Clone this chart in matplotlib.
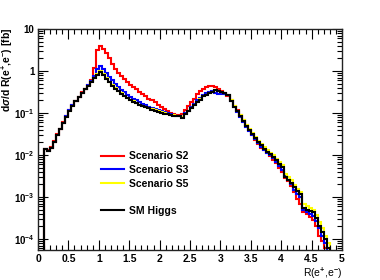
import numpy as np
import matplotlib
matplotlib.use("Agg")
import matplotlib.pyplot as plt
from matplotlib.ticker import MultipleLocator, FuncFormatter, LogLocator, NullFormatter
from matplotlib.lines import Line2D

plt.rcParams['font.family'] = ['Liberation Sans', 'DejaVu Sans']
plt.rcParams['font.weight'] = 'bold'
plt.rcParams['mathtext.fontset'] = 'custom'
plt.rcParams['mathtext.rm'] = 'Liberation Sans:bold'
plt.rcParams['mathtext.bf'] = 'Liberation Sans:bold'
plt.rcParams['mathtext.it'] = 'Liberation Sans:bold:italic'

# histogram bins: 0.05 wide, first bin starts at R = 0.10, last ends at 4.80
bin_lo = 0.10
bin_w = 0.05

sm_higgs = [
    0.014, 0.0125, 0.015, 0.021, 0.03, 0.042, 0.058, 0.083, 0.115, 0.15,
    0.19, 0.24, 0.3, 0.37, 0.45, 0.55, 0.67, 0.8,
    0.93, 0.8, 0.66, 0.54, 0.45, 0.38, 0.33, 0.29, 0.255, 0.23,
    0.205, 0.185, 0.17, 0.157, 0.147, 0.137, 0.129, 0.121, 0.114, 0.108,
    0.102, 0.097, 0.093, 0.089, 0.086, 0.084, 0.084, 0.077, 0.095, 0.11,
    0.13, 0.155, 0.18, 0.21, 0.25, 0.27, 0.3, 0.32, 0.35, 0.33,
    0.31, 0.3, 0.27, 0.19, 0.14, 0.11, 0.085, 0.065, 0.05, 0.04,
    0.031, 0.025, 0.02, 0.017, 0.014, 0.012, 0.0105, 0.009, 0.0075, 0.0062,
    0.0052, 0.003, 0.0026, 0.0022, 0.0017, 0.0014, 0.0012, 0.00055, 0.0005, 0.00048,
    0.00045, 0.00032, 0.00021, 0.00015, 0.0001, 0.00006,
]

scen_s2 = [
    0.014, 0.013, 0.016, 0.022, 0.031, 0.043, 0.06, 0.085, 0.118, 0.155,
    0.195, 0.245, 0.31, 0.38, 0.46, 0.6, 1.2, 3.1,
    4.0, 3.4, 2.7, 2.0, 1.5, 1.15, 0.92, 0.76, 0.64, 0.55,
    0.47, 0.41, 0.37, 0.32, 0.28, 0.25, 0.22, 0.2, 0.18, 0.16,
    0.14, 0.125, 0.11, 0.1, 0.095, 0.092, 0.09, 0.095, 0.12, 0.15,
    0.18, 0.22, 0.28, 0.33, 0.38, 0.42, 0.45, 0.45, 0.42, 0.37,
    0.33, 0.3, 0.26, 0.2, 0.15, 0.12, 0.09, 0.07, 0.052, 0.04,
    0.03, 0.023, 0.018, 0.015, 0.013, 0.011, 0.0095, 0.0078, 0.0065, 0.005,
    0.004, 0.0028, 0.0024, 0.0018, 0.0013, 0.0009, 0.0007, 0.00045, 0.0004, 0.00033,
    0.00028, 0.0002, 0.00012, 0.00009, 0.00006, 0.00004,
]

scen_s3 = [
    0.014, 0.0125, 0.015, 0.021, 0.03, 0.042, 0.058, 0.084, 0.116, 0.152,
    0.192, 0.242, 0.3, 0.37, 0.46, 0.57, 0.75, 1.1,
    1.35, 1.15, 0.92, 0.74, 0.6, 0.5, 0.42, 0.36, 0.31, 0.275,
    0.245, 0.22, 0.2, 0.18, 0.165, 0.152, 0.142, 0.133, 0.125, 0.117,
    0.11, 0.104, 0.098, 0.093, 0.089, 0.086, 0.085, 0.083, 0.1, 0.115,
    0.14, 0.165, 0.2, 0.23, 0.27, 0.3, 0.31, 0.33, 0.3, 0.28,
    0.29, 0.29, 0.27, 0.19, 0.14, 0.105, 0.08, 0.062, 0.048, 0.038,
    0.03, 0.024, 0.019, 0.016, 0.0135, 0.0115, 0.01, 0.0085, 0.007, 0.0055,
    0.0045, 0.0031, 0.0025, 0.002, 0.0015, 0.0012, 0.001, 0.0005, 0.00045, 0.0004,
    0.00035, 0.00027, 0.00018, 0.00012, 0.00008, 0.00005,
]

scen_s5 = [
    0.014, 0.0125, 0.015, 0.021, 0.03, 0.042, 0.058, 0.083, 0.115, 0.15,
    0.19, 0.24, 0.3, 0.37, 0.45, 0.56, 0.69, 0.85,
    1.0, 0.85, 0.7, 0.56, 0.46, 0.39, 0.34, 0.3, 0.26, 0.235,
    0.21, 0.19, 0.175, 0.16, 0.15, 0.14, 0.131, 0.123, 0.116, 0.11,
    0.104, 0.099, 0.095, 0.091, 0.088, 0.086, 0.085, 0.079, 0.097, 0.112,
    0.133, 0.158, 0.185, 0.215, 0.255, 0.275, 0.305, 0.325, 0.35, 0.33,
    0.31, 0.3, 0.27, 0.2, 0.15, 0.115, 0.088, 0.068, 0.053, 0.042,
    0.033, 0.027, 0.022, 0.018, 0.0155, 0.013, 0.0115, 0.0098, 0.0082, 0.0068,
    0.0057, 0.0036, 0.003, 0.0025, 0.0019, 0.0016, 0.0013, 0.0007, 0.0006, 0.00055,
    0.0005, 0.00038, 0.00025, 0.00018, 0.00012, 0.00008,
]

n_bins = len(sm_higgs)
edges = bin_lo + bin_w * np.arange(n_bins + 1)

fig = plt.figure(figsize=(3.8, 2.8), dpi=100)
ax = fig.add_axes([0.1, 0.107, 0.8, 0.789])

series = [
    (scen_s2, 'red', 'Scenario S2'),
    (scen_s3, 'blue', 'Scenario S3'),
    (scen_s5, '#ffff00', 'Scenario S5'),
    (sm_higgs, 'black', 'SM Higgs'),
]
for vals, col, lab in series:
    ax.stairs(vals, edges, baseline=1e-7, color=col, lw=1.5, label=lab)

ax.set_yscale('log')
ax.set_xlim(0, 5)
ax.set_ylim(5.5e-5, 10)

ax.xaxis.set_major_locator(MultipleLocator(0.5))
ax.xaxis.set_minor_locator(MultipleLocator(0.1))
ax.xaxis.set_major_formatter(FuncFormatter(lambda v, p: '%g' % v))

def ylab(v, p):
    e = int(round(np.log10(v)))
    if e == 0:
        return '1'
    if e == 1:
        return '10'
    return r'$10^{%d}$' % e

ax.yaxis.set_major_locator(LogLocator(base=10, numticks=10))
ax.yaxis.set_minor_locator(LogLocator(base=10, subs=np.arange(2, 10), numticks=20))
ax.yaxis.set_major_formatter(FuncFormatter(ylab))
ax.yaxis.set_minor_formatter(NullFormatter())

ax.tick_params(which='both', direction='in', top=True, right=True, labelsize=7.5, pad=3)
ax.tick_params(axis='y', labelsize=7, pad=2.5)
ax.tick_params(which='major', length=7, width=0.8)
ax.tick_params(which='minor', length=3.5, width=0.8)
for s in ax.spines.values():
    s.set_linewidth(1.0)
    s.set_color('#222222')

ax.set_xlabel(r'R(e$^{+}$,e$^{-}$)', loc='right', fontsize=7.5, labelpad=1)
fig.text(0.02, 0.9, r'd$\sigma$/d R(e$^{+}$,e$^{-}$) [fb]', rotation=90,
         ha='center', va='top', fontsize=7.5)

h = [Line2D([], [], color=c, lw=1.5) for _, c, _ in series]
labels = [l for _, _, l in series]
blank = Line2D([], [], color='none')
handles = h[:3] + [blank, h[3]]
labels = labels[:3] + [' ', labels[3]]
ax.legend(handles, labels, loc='upper left', bbox_to_anchor=(0.19, 0.47), frameon=False,
          fontsize=7.5, handlelength=2.2, handletextpad=0.5, labelspacing=0.35, borderpad=0)

fig.savefig('out.png', dpi=100)
